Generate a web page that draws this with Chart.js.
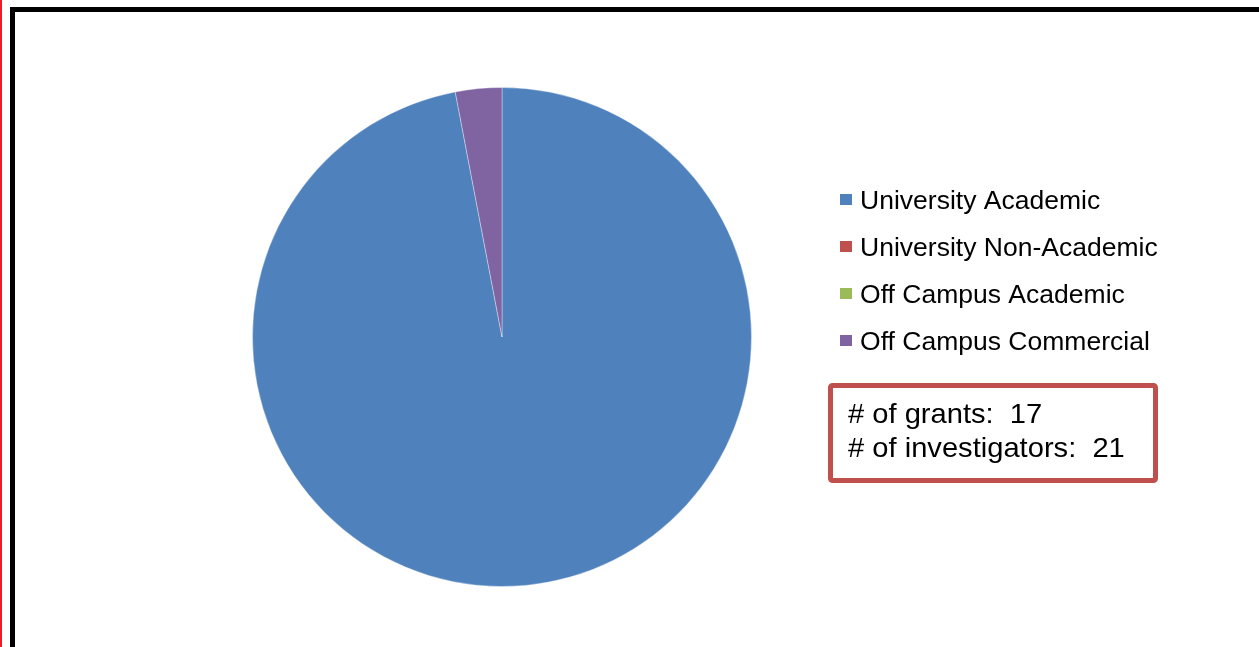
<!DOCTYPE html>
<html>
<head>
<meta charset="utf-8">
<title>Grants by Investigator Affiliation</title>
<script src="https://cdn.jsdelivr.net/npm/chart.js@4/dist/chart.umd.min.js"></script>
<style>
  html, body { margin: 0; padding: 0; background: #fff; overflow: hidden; }
  #wrap { position: relative; width: 1259px; height: 647px; }
  #edge { position: absolute; left: 0; top: 0; width: 2px; height: 647px; background: #ED1C24; }
  #frame { position: absolute; left: 10px; top: 7px; width: 1244px; height: 660px;
           border-top: 5px solid #000; border-left: 5px solid #000; border-right: 3px solid #000; }
  #c { position: absolute; left: 0; top: 0; }
</style>
</head>
<body>
<div id="wrap">
  <div id="edge"></div>
  <div id="frame"></div>
  <canvas id="c" width="1259" height="647"></canvas>
</div>
<script>
// Affiliation categories and their share of the total
const categories = ['University Academic', 'University Non-Academic', 'Off Campus Academic', 'Off Campus Commercial'];
const shares = [97, 0, 0, 3];
const sliceColors = ['#4F81BD', '#C0504D', '#9BBB59', '#8064A2'];
const summaryLines = ['# of grants:  17', '# of investigators:  21'];

const FONT = '"Liberation Sans", Arial, Helvetica, sans-serif';

// Legend and summary box drawn beside the pie
const sidePanel = {
  id: 'sidePanel',
  afterDraw(chart) {
    const ctx = chart.ctx;
    const labels = chart.data.labels;
    const colors = chart.data.datasets[0].backgroundColor;
    ctx.save();
    labels.forEach((lab, i) => {
      const base = 209 + i * 47;
      ctx.fillStyle = colors[i];
      ctx.fillRect(840, base - 15, 12, 11);
      ctx.save();
      ctx.translate(860, base);
      ctx.scale(1.02, 1);
      ctx.fillStyle = '#000';
      ctx.font = '26px ' + FONT;
      ctx.textBaseline = 'alphabetic';
      ctx.fillText(lab, 0, 0);
      ctx.restore();
    });

    // summary box
    ctx.strokeStyle = '#C0504D';
    ctx.lineWidth = 5;
    ctx.beginPath();
    ctx.roundRect(830.5, 385.5, 325, 95, 2);
    ctx.stroke();
    summaryLines.forEach((t, i) => {
      ctx.save();
      ctx.translate(848, 423 + i * 34);
      ctx.scale(1.04, 1);
      ctx.fillStyle = '#000';
      ctx.font = '28px ' + FONT;
      ctx.fillText(t, 0, 0);
      ctx.restore();
    });
    ctx.restore();
  }
};

new Chart(document.getElementById('c'), {
  type: 'pie',
  data: {
    labels: categories,
    datasets: [{
      data: shares,
      backgroundColor: sliceColors,
      borderColor: 'rgba(255,255,255,0.35)',
      borderWidth: 1
    }]
  },
  options: {
    responsive: false,
    animation: false,
    layout: { padding: { left: 252, right: 507, top: 87, bottom: 60 } },
    plugins: {
      legend: { display: false },
      tooltip: { enabled: false }
    }
  },
  plugins: [sidePanel]
});
</script>
</body>
</html>
